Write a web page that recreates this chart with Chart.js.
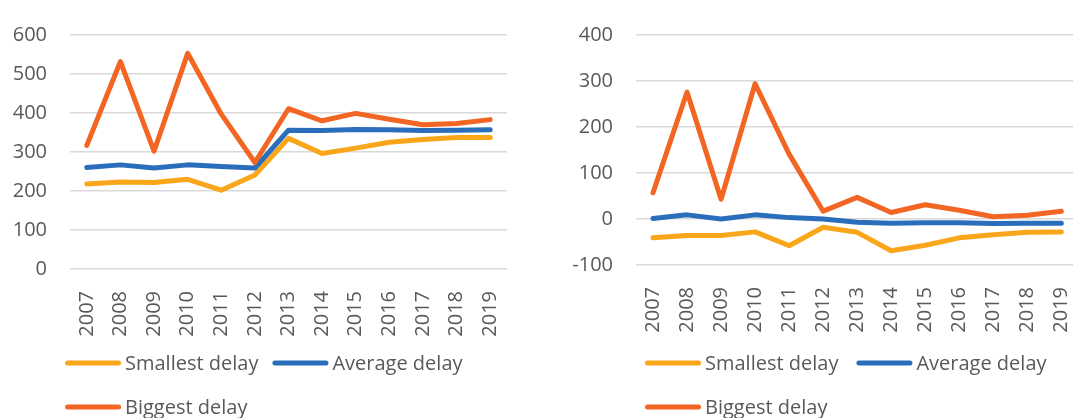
<!DOCTYPE html>
<html>
<head>
<meta charset="utf-8">
<script src="https://cdn.jsdelivr.net/npm/chart.js@4.4.1/dist/chart.umd.min.js"></script>
<style>
  body { margin: 0; background: #fff; width: 1073px; height: 418px; overflow: hidden; position: relative; }
  .box { position: absolute; top: 0; height: 418px; overflow: hidden; }
</style>
</head>
<body>
<div class="box" style="left:0;width:540px"><canvas id="chart-left" width="540" height="418"></canvas></div>
<div class="box" style="left:540px;width:533px"><canvas id="chart-right" width="560" height="418"></canvas></div>
<script>
const years = ["2007", "2008", "2009", "2010", "2011", "2012", "2013", "2014", "2015", "2016", "2017", "2018", "2019"];
const seriesNames = ["Smallest delay", "Average delay", "Biggest delay"];

// left chart
const smallestLeft = [218, 223, 222, 230, 202, 241, 335, 296, 310, 325, 332, 337, 337];
const averageLeft = [260, 267, 259, 267, 263, 259, 356, 355, 358, 357, 355, 356, 357];
const biggestLeft = [317, 532, 302, 553, 397, 273, 411, 380, 399, 384, 370, 373, 383];

// right chart
const smallestRight = [-41, -36, -36, -28, -58, -18, -29, -69, -57, -41, -34, -29, -28];
const averageRight = [1, 9, 0, 9, 3, 0, -7, -9, -8, -8, -10, -9, -9];
const biggestRight = [57, 276, 43, 294, 141, 17, 47, 14, 31, 19, 5, 8, 17];

const colors = ["#faa61a", "#2a6ebb", "#f26522"];
const textColor = "#595959";
const fontFamily = "'Open Sans', sans-serif";
const fontSize = 20;

function legendPlugin(x0, gap) {
  return {
    id: "bottomLegend",
    afterDraw(chart) {
      const { ctx } = chart;
      const rows = [363, 407];
      ctx.save();
      ctx.font = `${fontSize}px ${fontFamily}`;
      ctx.textBaseline = "middle";
      ctx.textAlign = "left";
      let x = x0;
      chart.data.datasets.forEach((ds, i) => {
        const y = i < 2 ? rows[0] : rows[1];
        if (i === 2) x = x0;
        ctx.strokeStyle = ds.borderColor;
        ctx.lineWidth = 5;
        ctx.lineCap = "round";
        ctx.beginPath();
        ctx.moveTo(x + 2.5, y);
        ctx.lineTo(x + 53.5, y);
        ctx.stroke();
        ctx.fillStyle = textColor;
        ctx.fillText(ds.label, x + 60, y + 1);
        x += 60 + ctx.measureText(ds.label).width + gap;
      });
      ctx.restore();
    },
  };
}

function makeChart(canvas, values, opts) {
  return new Chart(canvas, {
    type: "line",
    data: {
      labels: years,
      datasets: values.map((v, i) => ({
        label: seriesNames[i],
        data: v,
        borderColor: colors[i],
        backgroundColor: colors[i],
        borderWidth: 5,
        borderCapStyle: "round",
        borderJoinStyle: "round",
        pointRadius: 0,
        tension: 0,
        order: 2 - i,
      })),
    },
    options: {
      responsive: false,
      animation: false,
      layout: { padding: opts.padding },
      plugins: { legend: { display: false }, tooltip: { enabled: false } },
      scales: {
        x: {
          offset: true,
          grid: { display: false },
          border: { display: false },
          ticks: {
            minRotation: 90,
            maxRotation: 90,
            autoSkip: false,
            padding: 14,
            color: textColor,
            font: { family: fontFamily, size: fontSize },
          },
          afterFit: (s) => { s.height = 70; },
        },
        y: {
          min: opts.min,
          max: opts.max,
          grid: { color: "#d9d9d9", lineWidth: 1.5, drawTicks: false },
          border: { display: false },
          ticks: {
            stepSize: 100,
            padding: opts.tickPad,
            color: textColor,
            font: { family: fontFamily, size: fontSize },
          },
          afterFit: (s) => { s.width = opts.yWidth; },
        },
      },
    },
    plugins: [legendPlugin(opts.legendX, opts.legendGap)],
  });
}

makeChart(document.getElementById("chart-left"), [smallestLeft, averageLeft, biggestLeft], {
  min: 0, max: 600, yWidth: 70, tickPad: 23, legendX: 65, legendGap: 14,
  padding: { top: 26, right: 33, bottom: 79, left: 0 },
});

makeChart(document.getElementById("chart-right"), [smallestRight, averageRight, biggestRight], {
  min: -100, max: 400, yWidth: 96, tickPad: 23, legendX: 105, legendGap: 18,
  padding: { top: 27, right: 17, bottom: 83, left: 0 },
});
</script>
</body>
</html>
